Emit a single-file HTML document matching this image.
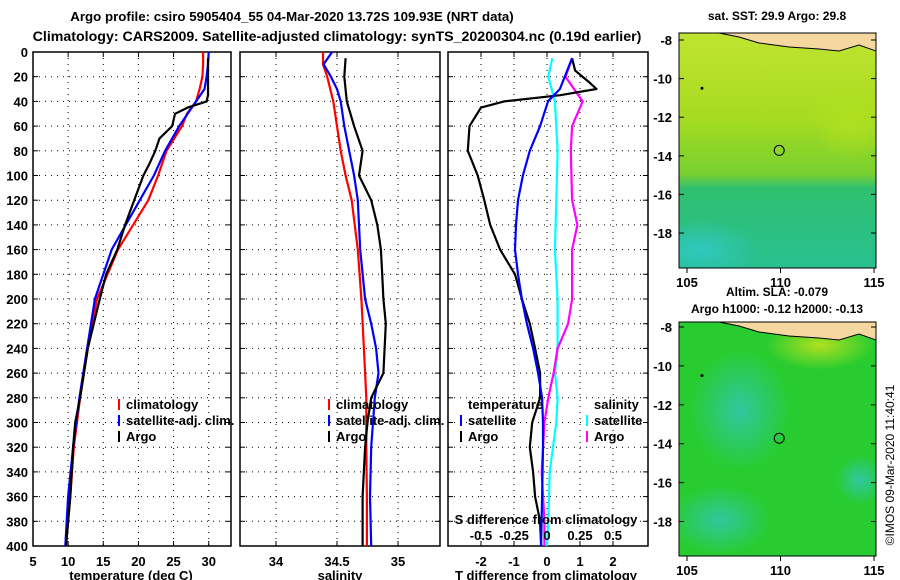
<!DOCTYPE html>
<html><head><meta charset="utf-8"><style>
body{margin:0;background:#fff;}
svg{display:block;font-family:"Liberation Sans",sans-serif;font-weight:bold;}
</style></head><body>
<svg id="fig" width="900" height="580" viewBox="0 0 900 580" xmlns="http://www.w3.org/2000/svg">
<defs>
<linearGradient id="sstg" x1="0" y1="0" x2="0" y2="1">
<stop offset="0" stop-color="#c0e430"/><stop offset="0.35" stop-color="#a8dc20"/><stop offset="0.6" stop-color="#78d030"/><stop offset="0.66" stop-color="#30c070"/><stop offset="1" stop-color="#28c090"/></linearGradient>
<radialGradient id="cyanblob" cx="0.5" cy="0.5" r="0.5"><stop offset="0" stop-color="#30c8c0"/><stop offset="1" stop-color="#30c8c0" stop-opacity="0"/></radialGradient>
<radialGradient id="tealblob" cx="0.5" cy="0.5" r="0.5"><stop offset="0" stop-color="#30c8a0"/><stop offset="1" stop-color="#30c8a0" stop-opacity="0"/></radialGradient>
<radialGradient id="yelblob" cx="0.5" cy="0.5" r="0.5"><stop offset="0" stop-color="#b0e020"/><stop offset="1" stop-color="#b0e020" stop-opacity="0"/></radialGradient>
</defs>
<g id="root"></g>
</svg>
<script>
// ---- data ----
const depths_clim = [0,10,20,30,40,50,60,80,100,120,160,200,240,280,320,360,400];
const temp_clim   = [29.2,29.2,29.1,28.7,28.2,26.9,26.2,24.0,22.8,21.4,17.1,14.1,12.8,11.7,10.8,10.3,9.7];
const depths_sat  = [0,10,20,30,40,60,80,100,120,160,200,240,280,320,360,400];
const temp_sat    = [30.0,29.9,29.7,29.4,28.2,25.8,23.8,22.2,20.2,16.2,13.8,12.7,11.6,10.7,10.0,9.6];
const depths_argo = [5,20,35,40,45,50,55,60,70,80,90,100,120,140,160,180,200,240,280,300,320,360,400];
const temp_argo   = [29.9,29.9,29.9,29.7,27.0,25.2,25.0,24.8,23.0,22.4,21.6,20.7,19.4,18.1,17.0,15.4,14.5,12.8,11.7,11.0,10.7,10.3,9.7];
const sal_clim_d  = [0,10,20,40,60,80,100,120,160,200,240,280,320,360,400];
const sal_clim    = [34.385,34.385,34.42,34.47,34.50,34.53,34.57,34.62,34.67,34.70,34.72,34.74,34.74,34.745,34.745];
const sal_sat_d   = [0,10,20,30,40,60,80,100,120,160,200,220,240,260,280,320,360,400];
const sal_sat     = [34.46,34.39,34.45,34.50,34.53,34.56,34.60,34.64,34.67,34.69,34.73,34.78,34.82,34.84,34.81,34.78,34.77,34.78];
const sal_argo_d  = [5,20,40,60,80,100,120,140,160,180,200,220,240,260,270,280,300,320,360,400];
const sal_argo    = [34.57,34.56,34.58,34.64,34.71,34.68,34.78,34.83,34.86,34.87,34.88,34.90,34.89,34.88,34.83,34.78,34.75,34.73,34.71,34.71];
const dT_argo_d = [5,15,25,30,35,40,45,60,80,100,120,140,160,180,200,220,240,260,280,300,320,340,360,380,400];
const dT_argo   = [0.76,0.85,1.3,1.5,0.4,-1.3,-2.0,-2.35,-2.4,-2.1,-1.9,-1.72,-1.42,-0.97,-0.76,-0.52,-0.36,-0.21,-0.21,-0.45,-0.52,-0.42,-0.36,-0.21,-0.18];
const dT_sat_d  = [5,30,40,60,80,100,120,140,160,180,200,220,240,260,280,300,320,360,400];
const dT_sat    = [0.76,0.39,0.03,-0.21,-0.52,-0.73,-0.88,-0.94,-0.97,-0.88,-0.76,-0.61,-0.42,-0.27,-0.15,-0.12,-0.12,-0.15,-0.18];
const dS_sat_d  = [5,20,40,80,120,160,200,240,260,280,300,340,380,400];
const dS_sat    = [0.04,0.01,0.06,0.08,0.07,0.06,0.08,0.08,0.06,0.08,0.07,0.02,0.01,0.0];
const dS_argo_d = [5,20,40,60,80,120,140,160,200,220,240,260,280,300,340,380,400];
const dS_argo   = [0.19,0.14,0.27,0.19,0.18,0.19,0.23,0.19,0.19,0.16,0.08,0.05,0.01,-0.02,-0.04,-0.02,-0.02];
const depth_ticks = [0,20,40,60,80,100,120,140,160,180,200,220,240,260,280,300,320,340,360,380,400];
const temp_ticks = [5,10,15,20,25,30];
const sal_ticks = [34,34.5,35];
const sal_tick_labels = ["34","34.5","35"];
const dT_ticks = [-2,-1,0,1,2];
const dS_ticks = [-0.5,-0.25,0,0.25,0.5];
const dS_tick_labels = ["-0.5","-0.25","0","0.25","0.5"];
const lat_ticks = [-8,-10,-12,-14,-16,-18];
const lon_ticks = [105,110,115];

const NS="http://www.w3.org/2000/svg";
const root=document.getElementById('root');
function el(tag,attrs,parent,text){const e=document.createElementNS(NS,tag);for(const k in attrs)e.setAttribute(k,attrs[k]);if(text!==undefined)e.textContent=text;(parent||root).appendChild(e);return e;}

const Y0=52,Y1=546;
const yD=d=>Y0+(Y1-Y0)*d/400;
function panel(name,x0,x1,xmin,xmax){
  const g=el('g',{});
  
  
  const xs=v=>x0+(x1-x0)*(v-xmin)/(xmax-xmin);
  return {g,xs,x0,x1};
}
function frame(p,xt){
  el('rect',{x:p.x0,y:Y0,width:p.x1-p.x0,height:Y1-Y0,fill:'none',stroke:'#000','stroke-width':1.5},p.g);
  depth_ticks.forEach(d=>{if(d>0&&d<400){el('line',{x1:p.x0,x2:p.x1,y1:yD(d),y2:yD(d),stroke:'#000','stroke-dasharray':'1,5','stroke-width':1},p.g);
    el('line',{x1:p.x0,x2:p.x0+5,y1:yD(d),y2:yD(d),stroke:'#000'},p.g);el('line',{x1:p.x1-5,x2:p.x1,y1:yD(d),y2:yD(d),stroke:'#000'},p.g);}});
  xt.forEach(v=>{const x=p.xs(v);if(x>p.x0+1&&x<p.x1-1){el('line',{x1:x,x2:x,y1:Y0,y2:Y1,stroke:'#000','stroke-dasharray':'1,5'},p.g);
    el('line',{x1:x,x2:x,y1:Y1-5,y2:Y1,stroke:'#000'},p.g);el('line',{x1:x,x2:x,y1:Y0,y2:Y0+5,stroke:'#000'},p.g);}});
}
function line(p,name,vals,ds,color,fn){
  const xs=fn||p.xs;
  const pts=vals.map((v,i)=>xs(v).toFixed(1)+','+yD(ds[i]).toFixed(1)).join(' ');
  const l=el('polyline',{points:pts,fill:'none',stroke:color,'stroke-width':2.2,'stroke-linejoin':'round'},p.g);
  
  
}
function txt(x,y,s,anchor,size,parent){return el('text',{x:x,y:y,'text-anchor':anchor||'middle','font-size':size||13},parent,s);}
function legend(p,x,y,color,label,name){
  const g=el('g',{},p.g);
  
  
  el('line',{x1:x,x2:x,y1:y-10,y2:y+1,stroke:color,'stroke-width':2},g);
  txt(x+7,y,label,'start',13,g);
}

txt(292,21,'Argo profile: csiro 5905404_55 04-Mar-2020 13.72S 109.93E (NRT data)','middle',13.3);
txt(337,41,'Climatology: CARS2009. Satellite-adjusted climatology: synTS_20200304.nc (0.19d earlier)','middle',14.2);

depth_ticks.forEach(d=>{txt(28,yD(d)+5,String(d),'end',13);});

const p1=panel('temperature-panel',33,231,5,33.17);
frame(p1,temp_ticks);
line(p1,'temp-climatology-line',temp_clim,depths_clim,'#f00');
line(p1,'temp-satellite-line',temp_sat,depths_sat,'#00f');
line(p1,'temp-argo-line',temp_argo,depths_argo,'#000');
temp_ticks.forEach(v=>txt(p1.xs(v),566,String(v),'middle',13,p1.g));
txt(131,580,'temperature (deg C)','middle',13,p1.g);
legend(p1,119,409,'#f00','climatology','legend-climatology');
legend(p1,119,425,'#00f','satellite-adj. clim.','legend-satellite');
legend(p1,119,441,'#000','Argo','legend-argo');

const p2=panel('salinity-panel',240,440,33.705,35.344);
frame(p2,sal_ticks);
line(p2,'sal-climatology-line',sal_clim,sal_clim_d,'#f00');
line(p2,'sal-satellite-line',sal_sat,sal_sat_d,'#00f');
line(p2,'sal-argo-line',sal_argo,sal_argo_d,'#000');
sal_ticks.forEach((v,i)=>txt(p2.xs(v),566,sal_tick_labels[i],'middle',13,p2.g));
txt(340,580,'salinity','middle',13,p2.g);
legend(p2,329,409,'#f00','climatology','legend-sal-climatology');
legend(p2,329,425,'#00f','satellite-adj. clim.','legend-sal-satellite');
legend(p2,329,441,'#000','Argo','legend-sal-argo');

const p3=panel('difference-panel',448,648,-3.0,3.06);
const xsS=v=>p3.xs(v*4);
frame(p3,dT_ticks);
line(p3,'dS-satellite-line',dS_sat,dS_sat_d,'#0ff',xsS);
line(p3,'dS-argo-line',dS_argo,dS_argo_d,'#f0f',xsS);
line(p3,'dT-argo-line',dT_argo,dT_argo_d,'#000');
line(p3,'dT-satellite-line',dT_sat,dT_sat_d,'#00f');
dT_ticks.forEach(v=>txt(p3.xs(v),566,String(v),'middle',13,p3.g));
dS_ticks.forEach((v,i)=>txt(xsS(v),540,dS_tick_labels[i],'middle',13,p3.g));
txt(546,524,'S difference from climatology','middle',13,p3.g);
txt(546,580,'T difference from climatology','middle',13,p3.g);
txt(468,409,'temperature','start',13,p3.g);
legend(p3,461,425,'#00f','satellite','legend-dT-satellite');
legend(p3,461,441,'#000','Argo','legend-dT-argo');
txt(594,409,'salinity','start',13,p3.g);
legend(p3,587,425,'#0ff','satellite','legend-dS-satellite');
legend(p3,587,441,'#f0f','Argo','legend-dS-argo');

function map(name,y0,y1,latTop,latScale,kind){
  const g=el('g',{});
  
  
  const x0=679,x1=876;
  const lon=v=>687+(v-105)*18.7;
  const lat=v=>latTop+(-8-v)*latScale;
  el('clipPath',{id:'c'+name},g);
  el('rect',{x:x0,y:y0,width:x1-x0,height:y1-y0},g.lastChild);
  const m=el('g',{'clip-path':'url(#c'+name+')'},g);
  if(kind==='sst'){
    el('rect',{x:x0,y:y0,width:x1-x0,height:y1-y0,fill:'url(#sstg)'},m);
    el('ellipse',{cx:700,cy:250,rx:60,ry:30,fill:'url(#cyanblob)'},m);
    el('ellipse',{cx:850,cy:120,rx:40,ry:40,fill:'url(#yelblob)'},m);
  } else {
    el('rect',{x:x0,y:y0,width:x1-x0,height:y1-y0,fill:'#28cc30'},m);
    el('ellipse',{cx:740,cy:410,rx:50,ry:60,fill:'url(#tealblob)'},m);
    el('ellipse',{cx:860,cy:480,rx:25,ry:25,fill:'url(#tealblob)'},m);
    el('ellipse',{cx:720,cy:520,rx:50,ry:35,fill:'url(#tealblob)'},m);
    el('ellipse',{cx:820,cy:345,rx:55,ry:25,fill:'url(#yelblob)'},m);
  }
  el('path',{d:`M${x0+40} ${y0} L${x0+60} ${y0+4} L${x0+80} ${y0+10} L${x0+110} ${y0+14} L${x0+140} ${y0+16} L${x0+160} ${y0+18} L${x0+180} ${y0+12} L${x1} ${y0+18} L${x1} ${y0} Z`,fill:'#f5d7a0',stroke:'#000','stroke-width':1},m);
  el('rect',{x:x0,y:y0,width:x1-x0,height:y1-y0,fill:'none',stroke:'#000'},g);
  el('circle',{cx:lon(105.8),cy:lat(-10.5),r:1.5,fill:'#000'},g);
  el('circle',{cx:lon(109.93),cy:lat(-13.72),r:5,fill:'none',stroke:'#000'},g);
  lat_ticks.forEach(v=>{txt(672,lat(v)+5,String(v),'end',13,g);el('line',{x1:x1-5,x2:x1,y1:lat(v),y2:lat(v),stroke:'#000'},g);el('line',{x1:x0,x2:x0+5,y1:lat(v),y2:lat(v),stroke:'#000'},g);});
  lon_ticks.forEach(v=>{txt(lon(v),y1+19,String(v),'middle',13,g);el('line',{x1:lon(v),x2:lon(v),y1:y1,y2:y1+5,stroke:'#000'},g);});
}
map('sst-map',33,268,40,19.3,'sst');
map('sla-map',322,556,327,19.45,'sla');
txt(777,20,'sat. SST: 29.9 Argo: 29.8','middle',12);
txt(777,296,'Altim. SLA: -0.079','middle',12);
txt(777,313,'Argo h1000: -0.12 h2000: -0.13','middle',12);
const cr=el('text',{x:0,y:0,'text-anchor':'middle','font-size':12,'font-weight':'normal',transform:'translate(894,465) rotate(-90)'},root,'©IMOS 09-Mar-2020 11:40:41');


</script>
</body></html>
